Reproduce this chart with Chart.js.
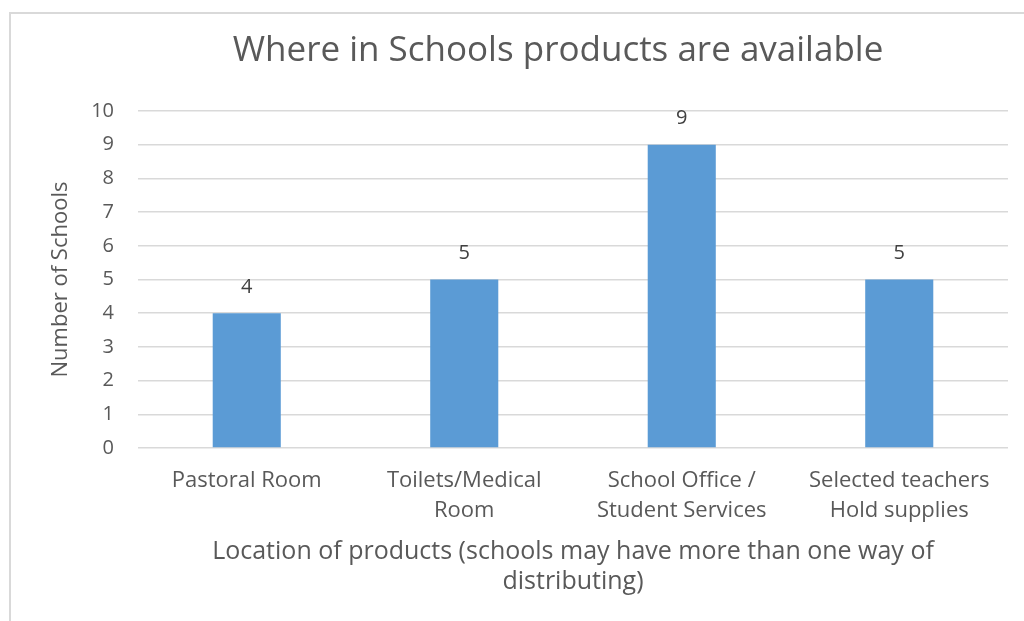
<!DOCTYPE html>
<html>
<head>
<meta charset="utf-8">
<script src="https://cdn.jsdelivr.net/npm/chart.js@4"></script>
<style>
  body { margin: 0; background: #fff; }
  #wrap { position: relative; width: 1024px; height: 621px; overflow: hidden; }
  #frame { position: absolute; left: 9px; top: 12px; width: 1100px; height: 700px;
           border-left: 2px solid #d9d9d9; border-top: 2px solid #d9d9d9; }
  canvas { position: absolute; left: 0; top: 0; }
</style>
</head>
<body>
<div id="wrap">
  <div id="frame"></div>
  <canvas id="myChart" width="1024" height="621"></canvas>
</div>
<script>
var categories = [
  ['Pastoral Room'],
  ['Toilets/Medical', 'Room'],
  ['School Office /', 'Student Services'],
  ['Selected teachers', 'Hold supplies']
];
var schoolCounts = [4, 5, 9, 5];
var yTicks = [0, 1, 2, 3, 4, 5, 6, 7, 8, 9, 10];

var textColor = '#595959';
var fontName = "'Open Sans', 'DejaVu Sans', sans-serif";

// value labels above bars
var barLabels = {
  id: 'barLabels',
  afterDatasetsDraw: function (chart) {
    var ctx = chart.ctx;
    var meta = chart.getDatasetMeta(0);
    ctx.save();
    ctx.fillStyle = '#404040';
    ctx.font = '20px ' + fontName;
    ctx.textAlign = 'center';
    ctx.textBaseline = 'middle';
    meta.data.forEach(function (bar, i) {
      ctx.fillText(schoolCounts[i], bar.x, bar.y - 26);
    });
    ctx.restore();
  }
};

// excel centres the title a bit left of the plot area
var titleNudge = {
  id: 'titleNudge',
  afterLayout: function (chart) {
    if (chart.titleBlock) {
      chart.titleBlock.left -= 15;
      chart.titleBlock.right -= 15;
    }
  }
};

var ctx = document.getElementById('myChart').getContext('2d');
var myChart = new Chart(ctx, {
  type: 'bar',
  data: {
    labels: categories,
    datasets: [{
      data: schoolCounts,
      backgroundColor: '#5B9BD5',
      categoryPercentage: 1,
      barPercentage: 0.313
    }]
  },
  options: {
    responsive: false,
    animation: false,
    events: [],
    layout: { padding: { left: 12, right: 16, top: 0, bottom: 0 } },
    plugins: {
      legend: { display: false },
      tooltip: { enabled: false },
      title: {
        display: true,
        fullSize: false,
        text: 'Where in Schools products are available',
        color: textColor,
        font: { family: fontName, size: 35, weight: 'normal', lineHeight: 1.2 },
        padding: { top: 30, bottom: 39 }
      }
    },
    scales: {
      x: {
        grid: { display: false },
        border: { display: false },
        ticks: {
          color: textColor,
          font: { family: fontName, size: 22, lineHeight: 1.36 },
          padding: 10,
          maxRotation: 0,
          autoSkip: false
        },
        title: {
          display: true,
          text: ['Location of products (schools may have more than one way of', 'distributing)'],
          color: textColor,
          font: { family: fontName, size: 25, lineHeight: 1.2 },
          padding: { top: 0, bottom: 24 }
        },
        afterFit: function (scale) { scale.height = 173; }
      },
      y: {
        min: 0,
        max: 10,
        grid: { color: '#d9d9d9', lineWidth: 1.5, drawTicks: false },
        border: { display: false },
        afterBuildTicks: function (scale) {
          scale.ticks = yTicks.map(function (v) { return { value: v }; });
        },
        ticks: {
          color: textColor,
          font: { family: fontName, size: 20 },
          padding: 24
        },
        title: {
          display: true,
          text: 'Number of Schools',
          color: textColor,
          font: { family: fontName, size: 22, lineHeight: 1.2 },
          padding: { top: 36, bottom: 0 }
        },
        afterFit: function (scale) { scale.width = 126; }
      }
    }
  },
  plugins: [barLabels, titleNudge]
});
</script>
</body>
</html>
